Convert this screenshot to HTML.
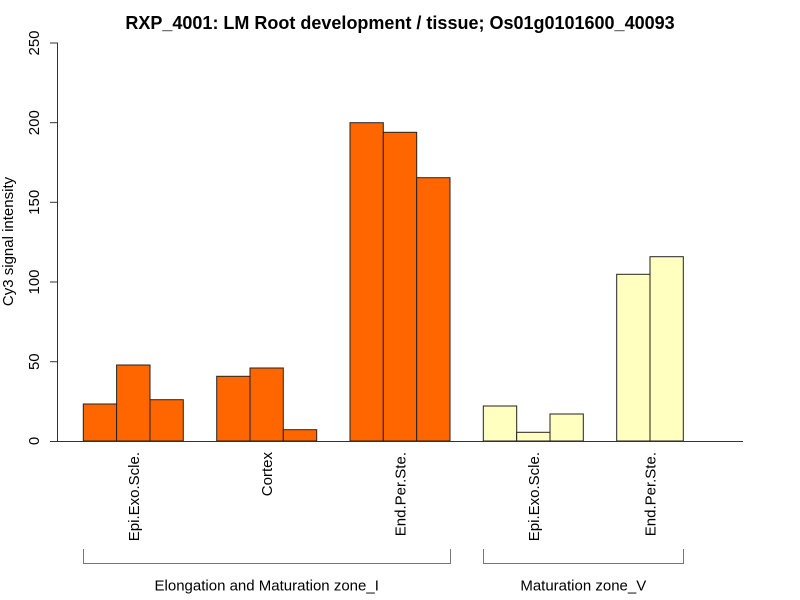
<!DOCTYPE html>
<html>
<head>
<meta charset="utf-8">
<style>
  html, body { margin:0; padding:0; background:#fff; }
  svg { display:block; }
  text { font-family: "Liberation Sans", Arial, sans-serif; fill:#000; }
</style>
</head>
<body>
<svg width="800" height="600" viewBox="0 0 800 600" xmlns="http://www.w3.org/2000/svg">
  <rect x="0" y="0" width="800" height="600" fill="#fff"/>
  <!-- Title -->
  <text x="400" y="29" font-size="18" font-weight="bold" text-anchor="middle">RXP_4001: LM Root development / tissue; Os01g0101600_40093</text>

  <!-- Y axis -->
  <g stroke="#333" stroke-width="1" fill="none">
    <line x1="57.5" y1="42.5" x2="57.5" y2="441.5"/>
    <line x1="50" y1="441.5" x2="57.5" y2="441.5"/>
    <line x1="50" y1="361.7" x2="57.5" y2="361.7"/>
    <line x1="50" y1="282" x2="57.5" y2="282"/>
    <line x1="50" y1="202.3" x2="57.5" y2="202.3"/>
    <line x1="50" y1="122.7" x2="57.5" y2="122.7"/>
    <line x1="50" y1="43" x2="57.5" y2="43"/>
  </g>
  <g font-size="15" text-anchor="middle">
    <text transform="translate(39,441) rotate(-90)">0</text>
    <text transform="translate(39,361.7) rotate(-90)">50</text>
    <text transform="translate(39,282) rotate(-90)">100</text>
    <text transform="translate(39,202.3) rotate(-90)">150</text>
    <text transform="translate(39,122.7) rotate(-90)">200</text>
    <text transform="translate(39,43) rotate(-90)">250</text>
  </g>
  <text transform="translate(13,241.5) rotate(-90)" font-size="15" text-anchor="middle">Cy3 signal intensity</text>

  <!-- Bars -->
  <g stroke="#222" stroke-width="1">
    <rect x="83.3" y="404" width="33.3" height="37" fill="#FF6600"/>
    <rect x="116.6" y="365" width="33.4" height="76" fill="#FF6600"/>
    <rect x="150" y="399.7" width="33.3" height="41.3" fill="#FF6600"/>

    <rect x="216.7" y="376.3" width="33.3" height="64.7" fill="#FF6600"/>
    <rect x="250" y="368" width="33.3" height="73" fill="#FF6600"/>
    <rect x="283.3" y="429.7" width="33.4" height="11.3" fill="#FF6600"/>

    <rect x="350" y="122.7" width="33.3" height="318.3" fill="#FF6600"/>
    <rect x="383.3" y="132.3" width="33.4" height="308.7" fill="#FF6600"/>
    <rect x="416.7" y="177.7" width="33.3" height="263.3" fill="#FF6600"/>

    <rect x="483.3" y="406" width="33.4" height="35" fill="#FFFFC0"/>
    <rect x="516.7" y="432.3" width="33.3" height="8.7" fill="#FFFFC0"/>
    <rect x="550" y="414" width="33.3" height="27" fill="#FFFFC0"/>

    <rect x="616.7" y="274.3" width="33.3" height="166.7" fill="#FFFFC0"/>
    <rect x="650" y="256.7" width="33.3" height="184.3" fill="#FFFFC0"/>
  </g>

  <!-- X axis line -->
  <line x1="57" y1="441.5" x2="743" y2="441.5" stroke="#333" stroke-width="1"/>

  <!-- X labels -->
  <g font-size="15" text-anchor="end">
    <text transform="translate(139,452) rotate(-90)">Epi.Exo.Scle.</text>
    <text transform="translate(272.2,452) rotate(-90)">Cortex</text>
    <text transform="translate(405.5,452) rotate(-90)">End.Per.Ste.</text>
    <text transform="translate(538.8,452) rotate(-90)">Epi.Exo.Scle.</text>
    <text transform="translate(655.5,452) rotate(-90)">End.Per.Ste.</text>
  </g>

  <!-- Group brackets -->
  <g stroke="#777" stroke-width="1" fill="none">
    <polyline points="83.5,549 83.5,563.5 450.5,563.5 450.5,549"/>
    <polyline points="483.5,549 483.5,563.5 683.5,563.5 683.5,549"/>
  </g>
  <g font-size="15" text-anchor="middle">
    <text x="266.7" y="590.5">Elongation and Maturation zone_I</text>
    <text x="583.3" y="590.5">Maturation zone_V</text>
  </g>
</svg>
</body>
</html>
